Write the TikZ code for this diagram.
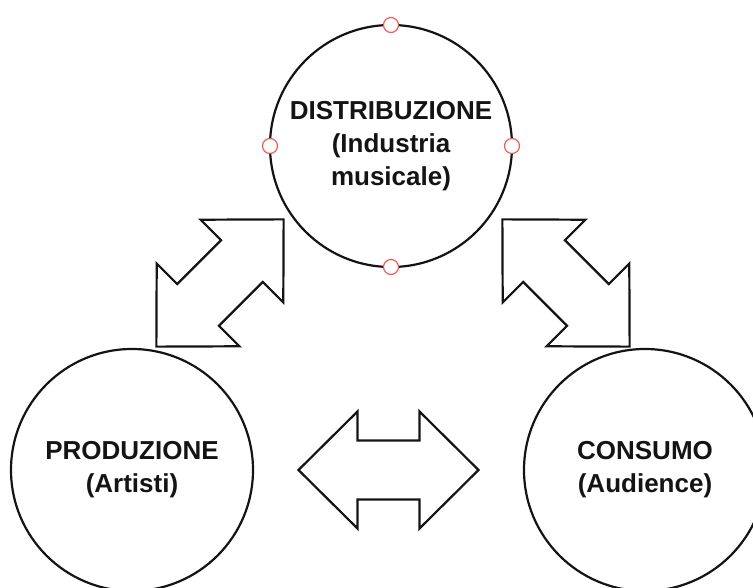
\documentclass[tikz,border=0pt]{standalone}
\usepackage{fontspec}
\setmainfont{Liberation Sans}
\usepackage{tikz}
\usetikzlibrary{positioning}
\definecolor{inkblack}{RGB}{20,20,20}
\definecolor{handlered}{RGB}{240,90,90}
\tikzset{
  stage-node/.style={circle, draw=inkblack, line width=2.2pt, minimum size=242pt,
    inner sep=0pt, outer sep=0pt, align=center, text=inkblack,
    font=\fontsize{26}{33}\selectfont\bfseries},
  handle-node/.style={circle, draw=handlered, fill=white, line width=1.2pt,
    minimum size=15pt, inner sep=0pt},
  block-arrow/.style={draw=inkblack, line width=2.2pt, line join=miter, fill=white},
  dbl-arrow/.pic={
    \draw[block-arrow] (-90,0) -- (-31,58.5) -- (-31,29.5) -- (31,29.5) -- (31,58.5)
      -- (90,0) -- (31,-58.5) -- (31,-29.5) -- (-31,-29.5) -- (-31,-58.5) -- cycle;
  }
}
\begin{document}
\begin{tikzpicture}[x=1pt, y=-1pt]
\useasboundingbox (0,0) rectangle (753,588);
% the three stages
\node[stage-node] (distribuzione) at (391,146) {DISTRIBUZIONE\\(Industria\\musicale)};
\node[stage-node] (produzione) at (132,470) {PRODUZIONE\\(Artisti)};
\node[stage-node] (consumo) at (645,470) {CONSUMO\\(Audience)};
% selection handles
\foreach \a in {north,west,east,south}
  \node[handle-node] (h-\a) at (distribuzione.\a) {};
% block arrows between the stages
\pic[rotate=45] at (220,283) {dbl-arrow};
\pic[rotate=-45] at (566,283) {dbl-arrow};
\pic at (388.5,470) {dbl-arrow};
\end{tikzpicture}
\end{document}
